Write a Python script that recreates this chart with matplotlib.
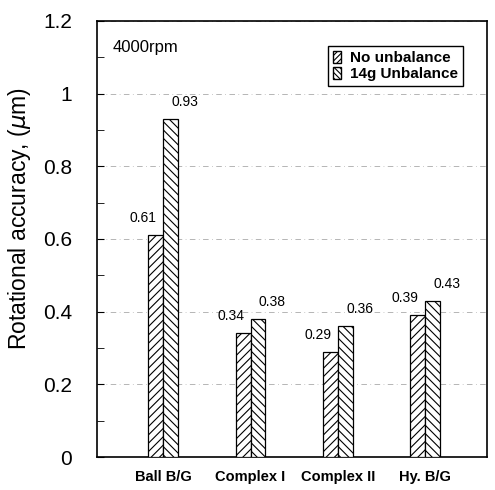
import matplotlib.pyplot as plt
import numpy as np
from matplotlib.patches import Patch

plt.rcParams['font.family'] = ['Liberation Sans', 'DejaVu Sans']
plt.rcParams['hatch.linewidth'] = 0.8

categories = ['Ball B/G', 'Complex I', 'Complex II', 'Hy. B/G']
no_unbalance = [0.61, 0.34, 0.29, 0.39]
unbalance_14g = [0.93, 0.38, 0.36, 0.43]
labels = ['No unbalance', '14g Unbalance']

fig = plt.figure(figsize=(4.95, 4.9), dpi=100)
ax = fig.add_axes([97 / 495, 33 / 490, 390 / 495, 436 / 490])

x = np.arange(len(categories))
w = 0.17
ax.bar(x - w / 2, no_unbalance, w, facecolor='white', edgecolor='black',
       hatch='////', linewidth=0.9, zorder=3)
ax.bar(x + w / 2, unbalance_14g, w, facecolor='white', edgecolor='black',
       hatch='\\\\\\\\', linewidth=0.9, zorder=3)

for i in range(len(categories)):
    ax.text(x[i] - w / 2 + 0.01, no_unbalance[i] + 0.047, f'{no_unbalance[i]:.2f}',
            ha='right', va='center', fontsize=10)
    ax.text(x[i] + w / 2 + 0.01, unbalance_14g[i] + 0.047, f'{unbalance_14g[i]:.2f}',
            ha='left', va='center', fontsize=10)

ax.set_xlim(-0.76, 3.71)
ax.set_ylim(0, 1.2)
ax.set_yticks(np.arange(0, 1.21, 0.2))
ax.set_yticklabels(['0', '0.2', '0.4', '0.6', '0.8', '1', '1.2'], fontsize=15)
ax.set_yticks(np.arange(0.1, 1.2, 0.2), minor=True)
ax.tick_params(axis='y', which='both', direction='in', length=5, right=False, pad=18)
ax.set_xticks(x)
ax.set_xticklabels(categories, fontsize=10.5, fontweight='bold')
ax.tick_params(axis='x', length=0, pad=9)
ax.yaxis.grid(True, linestyle=(0, (8, 5, 1, 5)), color='0.6', linewidth=0.5, zorder=0)
for s in ax.spines.values():
    s.set_linewidth(1.2)

ax.set_ylabel(r'Rotational accuracy, ($\mu$m)', fontsize=16.5)
ax.yaxis.set_label_coords(-0.165, 0.546)
ax.text(0.04, 0.94, '4000rpm', transform=ax.transAxes, fontsize=12, va='center')

handles = [Patch(facecolor='white', edgecolor='black', hatch='//////'),
           Patch(facecolor='white', edgecolor='black', hatch='\\\\\\\\\\\\')]
leg = ax.legend(handles, labels, loc='upper right', bbox_to_anchor=(0.958, 0.96),
                fontsize=11, fancybox=False, edgecolor='black', handlelength=0.55,
                handleheight=0.9, handletextpad=0.6, borderpad=0.3, labelspacing=0.1,
                framealpha=1)
leg.get_frame().set_linewidth(1.0)
for t in leg.get_texts():
    t.set_fontweight('bold')

fig.savefig('out.png', dpi=100)
